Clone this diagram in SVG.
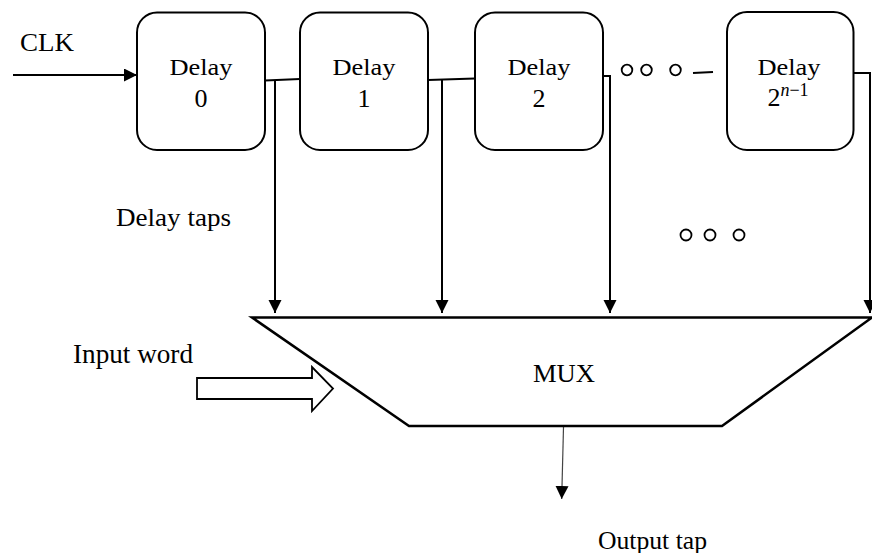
<svg xmlns="http://www.w3.org/2000/svg" width="872" height="553" viewBox="0 0 872 553">
  <style>
    .box { fill: #fff; stroke: #000; stroke-width: 2; }
    .wire { fill: none; stroke: #000; stroke-width: 2; }
    .thin { fill: none; stroke: #444; stroke-width: 1.2; }
    .dot { fill: #fff; stroke: #000; stroke-width: 1.8; }
    .lbl { font-family: "Liberation Serif", "Times New Roman", serif; fill: #000; }
    .ctr { text-anchor: middle; }
  </style>
  <defs>
    <marker id="tri" markerUnits="userSpaceOnUse" markerWidth="14" markerHeight="14" refX="13" refY="6.5" orient="auto">
      <path d="M0,0 L13,6.5 L0,13 Z" fill="#000"/>
    </marker>
  </defs>

  <rect width="872" height="553" fill="#fff"/>

  <!-- connectors -->
  <g id="connectors">
    <line class="wire" x1="13" y1="75" x2="137" y2="75" marker-end="url(#tri)"/>
    <line class="wire" x1="265" y1="80.5" x2="300" y2="79"/>
    <line class="wire" x1="428" y1="80" x2="475" y2="78.5"/>
    <line class="wire" x1="693" y1="73" x2="713" y2="72"/>
    <!-- delay taps -->
    <line class="wire" x1="275" y1="80.5" x2="275" y2="313" marker-end="url(#tri)"/>
    <line class="wire" x1="442" y1="79.5" x2="442" y2="313" marker-end="url(#tri)"/>
    <path class="wire" d="M603,76 H610 V313" marker-end="url(#tri)"/>
    <path class="wire" d="M853,73 H870 V313" marker-end="url(#tri)"/>
    <!-- output tap -->
    <line class="thin" x1="563.5" y1="427" x2="561.7" y2="499" marker-end="url(#tri)"/>
    <!-- input word block arrow -->
    <polygon points="197,378 312,378 312,367 333,388.5 312,411 312,399 197,399" fill="#fff" stroke="#000" stroke-width="1.8"/>
  </g>

  <!-- delay stages -->
  <g id="delay0">
    <rect class="box" x="137" y="12.5" width="128" height="137.5" rx="20"/>
    <text class="lbl ctr" x="201" y="75" font-size="24" textLength="63" lengthAdjust="spacingAndGlyphs">Delay</text>
    <text class="lbl ctr" x="201" y="107" font-size="26">0</text>
  </g>
  <g id="delay1">
    <rect class="box" x="300" y="12.5" width="128" height="137.5" rx="20"/>
    <text class="lbl ctr" x="364" y="75" font-size="24" textLength="63" lengthAdjust="spacingAndGlyphs">Delay</text>
    <text class="lbl ctr" x="364" y="107" font-size="26">1</text>
  </g>
  <g id="delay2">
    <rect class="box" x="475" y="12.5" width="128" height="137.5" rx="20"/>
    <text class="lbl ctr" x="539" y="75" font-size="24" textLength="63" lengthAdjust="spacingAndGlyphs">Delay</text>
    <text class="lbl ctr" x="539" y="107" font-size="26">2</text>
  </g>
  <g id="delayN">
    <rect class="box" x="727" y="12" width="126.5" height="138" rx="20"/>
    <text class="lbl ctr" x="789" y="75" font-size="24" textLength="63" lengthAdjust="spacingAndGlyphs">Delay</text>
    <text class="lbl ctr" x="788" y="106" font-size="26">2<tspan font-size="18" font-style="italic" dy="-10">n</tspan><tspan font-size="18">−1</tspan></text>
  </g>

  <!-- ellipses between stages and between taps -->
  <g id="ellipsis-top">
    <circle class="dot" cx="627" cy="70" r="5.3"/>
    <circle class="dot" cx="646.5" cy="70" r="5.3"/>
    <circle class="dot" cx="675.5" cy="70" r="5.3"/>
  </g>
  <g id="ellipsis-taps">
    <circle class="dot" cx="686" cy="235" r="5.5"/>
    <circle class="dot" cx="710" cy="235" r="5.5"/>
    <circle class="dot" cx="739" cy="235" r="5.5"/>
  </g>

  <!-- multiplexer -->
  <g id="mux">
    <polygon points="252,317.5 872,317.5 722,426 409,426" fill="#fff" stroke="#000" stroke-width="2.5" stroke-linejoin="miter"/>
    <text class="lbl" x="533" y="382" font-size="25" textLength="62" lengthAdjust="spacingAndGlyphs">MUX</text>
  </g>

  <!-- labels -->
  <g id="labels">
    <text class="lbl" x="20" y="51" font-size="26" textLength="54" lengthAdjust="spacingAndGlyphs">CLK</text>
    <text class="lbl" x="116" y="226" font-size="25" textLength="115" lengthAdjust="spacingAndGlyphs">Delay taps</text>
    <text class="lbl" x="73" y="362.5" font-size="27" textLength="120" lengthAdjust="spacingAndGlyphs">Input word</text>
    <text class="lbl" x="598" y="549" font-size="25" textLength="109" lengthAdjust="spacingAndGlyphs">Output tap</text>
  </g>
</svg>
